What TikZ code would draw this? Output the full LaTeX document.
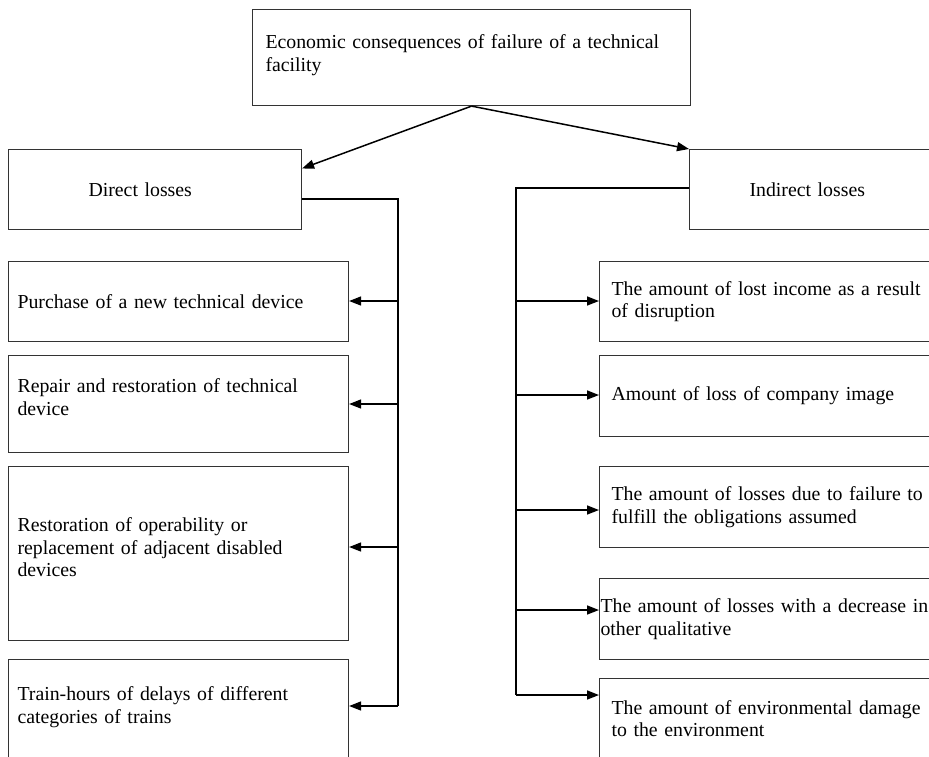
\documentclass[tikz,border=0pt]{standalone}
\usepackage{fontspec}
\setmainfont{Liberation Serif}
\usetikzlibrary{arrows.meta, positioning, calc}

\begin{document}
\begin{tikzpicture}[x=1pt, y=-1pt,
  box/.style={draw=black!80, line width=1.1pt, anchor=north west, align=left,
    inner ysep=0pt, font=\fontsize{19.8}{22.5}\selectfont},
  leftbox/.style={box, minimum width=340pt, text width=322pt, inner xsep=9pt},
  rightbox/.style={box, minimum width=354pt, text width=330pt, inner xsep=12pt},
  spine/.style={line width=1.5pt},
  link/.style={line width=1.5pt, -{Triangle[length=12pt, width=9pt]}}
]
\useasboundingbox (0,0) rectangle (929,756);

% top of the tree
\node[box, minimum width=438pt, minimum height=96pt, text width=412pt, inner xsep=13pt] (econ) at (252,9)
  {Economic consequences of failure of a technical\\ facility\\[-13pt]\mbox{}};
\node[box, minimum width=293pt, minimum height=80pt, text width=133pt, inner xsep=80pt] (direct) at (8,149) {Direct losses};
\node[box, minimum width=293pt, minimum height=80pt, text width=173pt, inner xsep=60pt] (indirect) at (689,149) {Indirect losses};

\draw [link] (econ.south) -- ($(direct.north east)!0.24!(direct.south east)$);
\draw [link] (econ.south) -- (indirect.north west);

% direct losses
\node[leftbox, minimum height=80pt] (purchase) at (8,261) {Purchase of a new technical device};
\node[leftbox, minimum height=97pt] (repair) at (8,355) {Repair and restoration of technical\\ device\\[-8pt]\mbox{}};
\node[leftbox, minimum height=174pt] (restore) at (8,466) {Restoration of operability or\\ replacement of adjacent disabled\\ devices\\[-10pt]\mbox{}};
\node[leftbox, minimum height=100pt] (trainhours) at (8,659) {Train-hours of delays of different\\ categories of trains\\[-13pt]\mbox{}};

\coordinate (ltop) at (398,199);
\coordinate (lbot) at (398,706);
\draw [spine] (ltop -| direct.east) -- (ltop) -- (lbot);
\foreach \b/\y [count=\i] in {purchase/301, repair/404, restore/547, trainhours/706}
{
  \coordinate (l\i) at (398,\y);
  \draw [link] (l\i) -- (l\i -| \b.east);
}

% indirect losses
\node[rightbox, minimum height=80pt] (income) at (599,261) {The amount of lost income as a result\\ of disruption};
\node[rightbox, minimum height=81pt] (image) at (599,355) {Amount of loss of company image};
\node[rightbox, minimum height=81pt] (obligations) at (599,466) {The amount of losses due to failure to\\ fulfill the obligations assumed};
\node[rightbox, minimum height=81pt, text width=360pt, inner xsep=1pt] (quality) at (599,578) {The amount of losses with a decrease in\\ other qualitative};
\node[rightbox, minimum height=80pt] (environment) at (599,678) {The amount of environmental damage\\ to the environment};

\coordinate (rtop) at (516,188);
\coordinate (rbot) at (516,695);
\draw [spine] (rtop -| indirect.west) -- (rtop) -- (rbot);
\foreach \b/\y [count=\i] in {income/301, image/395, obligations/510, quality/610, environment/695}
{
  \coordinate (r\i) at (516,\y);
  \draw [link] (r\i) -- (r\i -| \b.west);
}

\end{tikzpicture}
\end{document}
